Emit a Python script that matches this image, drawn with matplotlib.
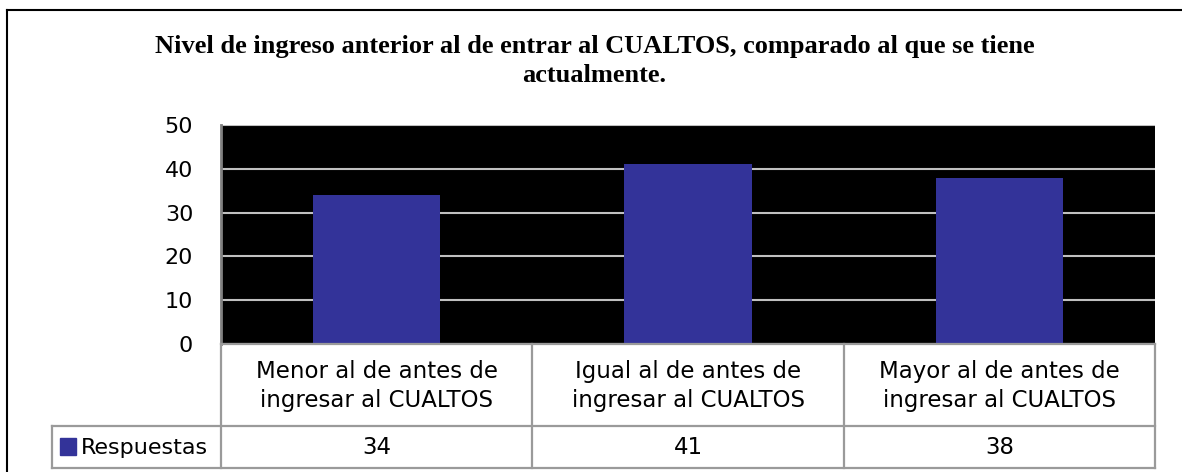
import matplotlib
matplotlib.use("Agg")
from matplotlib import pyplot as plt
from matplotlib.lines import Line2D
from matplotlib.patches import Rectangle

# datos del grafico
categorias = ["Menor al de antes de\ningresar al CUALTOS",
              "Igual al de antes de\ningresar al CUALTOS",
              "Mayor al de antes de\ningresar al CUALTOS"]
respuestas = [34, 41, 38]
serie = "Respuestas"
titulo = "Nivel de ingreso anterior al de entrar al CUALTOS, comparado al que se tiene\nactualmente."
ticks_y = [0, 10, 20, 30, 40, 50]

W, H = 1182, 472
fig = plt.figure(figsize=(W / 100, H / 100), dpi=100)
fig.patch.set_facecolor("white")

def fx(px):
    return px / W

def fy(py):
    return 1 - py / H

# area del grafico
x0, x1, ytop, ybot = 221, 1155, 125, 344
ax = fig.add_axes([fx(x0), fy(ybot), fx(x1 - x0), (ybot - ytop) / H])
ax.set_facecolor("black")
ax.bar(range(len(respuestas)), respuestas, width=0.41, color="#333399", zorder=3)
ax.set_xlim(-0.5, len(respuestas) - 0.5)
ax.set_ylim(0, 50)
ax.set_yticks(ticks_y)
ax.set_xticks([])
ax.yaxis.grid(True, color="#c0c0c0", linewidth=1.5, zorder=1)
ax.tick_params(axis="y", length=0, pad=20, labelsize=16)
for lado in ["top", "right", "bottom"]:
    ax.spines[lado].set_visible(False)
ax.spines["left"].set_color("#808080")
ax.spines["left"].set_linewidth(2)

# titulo
fig.text(0.503, fy(61), titulo, ha="center", va="center", fontsize=19,
         fontfamily="Liberation Serif", fontweight="bold", linespacing=1.32)

# tabla de datos debajo del grafico
fila1_top, fila1_bot, fila2_bot = 344, 426, 468
leg_left = 52
gris = "#9a9a9a"
bordes_x = [x0 + (x1 - x0) * i / len(respuestas) for i in range(len(respuestas) + 1)]

def linea(xa, ya, xb, yb, color=gris, lw=1.6):
    fig.add_artist(Line2D([fx(xa), fx(xb)], [fy(ya), fy(yb)], color=color, linewidth=lw))

linea(x0, fila1_top, x1, fila1_top)
linea(leg_left, fila1_bot, x1, fila1_bot)
linea(leg_left, fila2_bot, x1, fila2_bot)
linea(leg_left, fila1_bot, leg_left, fila2_bot)
for bx in bordes_x:
    linea(bx, fila1_top, bx, fila2_bot)

for i, cat in enumerate(categorias):
    cx = (bordes_x[i] + bordes_x[i + 1]) / 2
    fig.text(fx(cx), fy((fila1_top + fila1_bot) / 2 + 1), cat, ha="center", va="center",
             fontsize=16.5, linespacing=1.3, color="black")
    fig.text(fx(cx), fy((fila1_bot + fila2_bot) / 2 + 1), str(respuestas[i]),
             ha="center", va="center", fontsize=16.5, color="black")

# leyenda en la tabla
fig.add_artist(Rectangle((fx(60), fy(455)), fx(16), 17 / H, color="#333399"))
fig.text(fx(81), fy((fila1_bot + fila2_bot) / 2 + 1), serie, ha="left", va="center",
         fontsize=16, color="black")

# marco exterior
fig.add_artist(Line2D([fx(7), 1], [fy(10), fy(10)], color="black", linewidth=1.5))
fig.add_artist(Line2D([fx(7), fx(7)], [fy(10), 0], color="black", linewidth=1.5))

fig.savefig("out.png", dpi=100)
